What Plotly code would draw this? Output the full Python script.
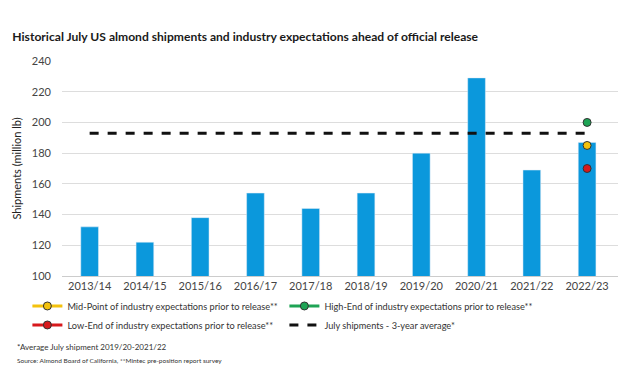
import plotly.graph_objects as go

categories = ["2013/14", "2014/15", "2015/16", "2016/17", "2017/18",
              "2018/19", "2019/20", "2020/21", "2021/22", "2022/23"]
shipments = [132, 122, 138, 154, 144, 154, 180, 229, 169, 187]
avg_3yr = 193
mid_point = 185
high_end = 200
low_end = 170
y_ticks = [100, 120, 140, 160, 180, 200, 220, 240]

font_family = "Lato, Roboto, Arial, sans-serif"

fig = go.Figure()
fig.add_trace(go.Bar(x=categories, y=shipments, marker_color="#0b98dc",
                     showlegend=False, width=0.32))
fig.add_trace(go.Scatter(x=[categories[-1]], y=[mid_point], mode="lines+markers",
                         name="Mid-Point of industry expectations prior to release**",
                         line=dict(color="#f4c20d", width=3),
                         marker=dict(color="#f4c20d", size=8, line=dict(color="#333", width=1))))
fig.add_trace(go.Scatter(x=[categories[-1]], y=[high_end], mode="lines+markers",
                         name="High-End of industry expectations prior to release**",
                         line=dict(color="#1ea455", width=3),
                         marker=dict(color="#1ea455", size=8, line=dict(color="#333", width=1))))
fig.add_trace(go.Scatter(x=[categories[-1]], y=[low_end], mode="lines+markers",
                         name="Low-End of industry expectations prior to release**",
                         line=dict(color="#d7191c", width=3),
                         marker=dict(color="#d7191c", size=8, line=dict(color="#333", width=1))))
fig.add_trace(go.Scatter(x=categories, y=[avg_3yr] * len(categories), mode="lines",
                         name="July shipments - 3-year average*",
                         line=dict(color="#111", width=3, dash="dash")))

fig.update_layout(
    width=618, height=383,
    margin=dict(l=54, r=6, t=53, b=115),
    paper_bgcolor="white", plot_bgcolor="white",
    font=dict(family=font_family, size=11, color="#333"),
    title=dict(text="<b>Historical July US almond shipments and industry expectations ahead of official release</b>",
               x=0.007, xanchor="left", y=1 - 29 / 383, yanchor="middle",
               font=dict(size=12.1, color="#1a1a1a")),
    yaxis=dict(range=[100, 240], tickvals=y_ticks, showgrid=True, gridcolor="#dddddd",
               gridwidth=1, zeroline=False, ticks="", ticklabelstandoff=10,
               title=dict(text="Shipments (million lb)", font=dict(size=11, color="#222"), standoff=8),
               tickfont=dict(size=11, color="#444")),
    xaxis=dict(showline=True, linecolor="#cccccc", tickfont=dict(size=11, color="#444"),
               ticks=""),
    legend=dict(orientation="h", x=-0.062, xanchor="left", y=-0.072, yanchor="top",
                entrywidth=212, entrywidthmode="pixels",
                font=dict(size=9.2, color="#333"), tracegroupgap=0, itemwidth=30),
)

fig.add_annotation(text="*Average July shipment 2019/20-2021/22", xref="paper", yref="paper",
                   x=-0.084, y=-0.33, xanchor="left", yanchor="middle", showarrow=False,
                   font=dict(size=8, color="#333"))
fig.add_annotation(text="Source: Almond Board of California, **Mintec pre-position report survey",
                   xref="paper", yref="paper",
                   x=-0.084, y=-0.395, xanchor="left", yanchor="middle", showarrow=False,
                   font=dict(size=6.5, color="#333"))

fig.write_html("out.html")
